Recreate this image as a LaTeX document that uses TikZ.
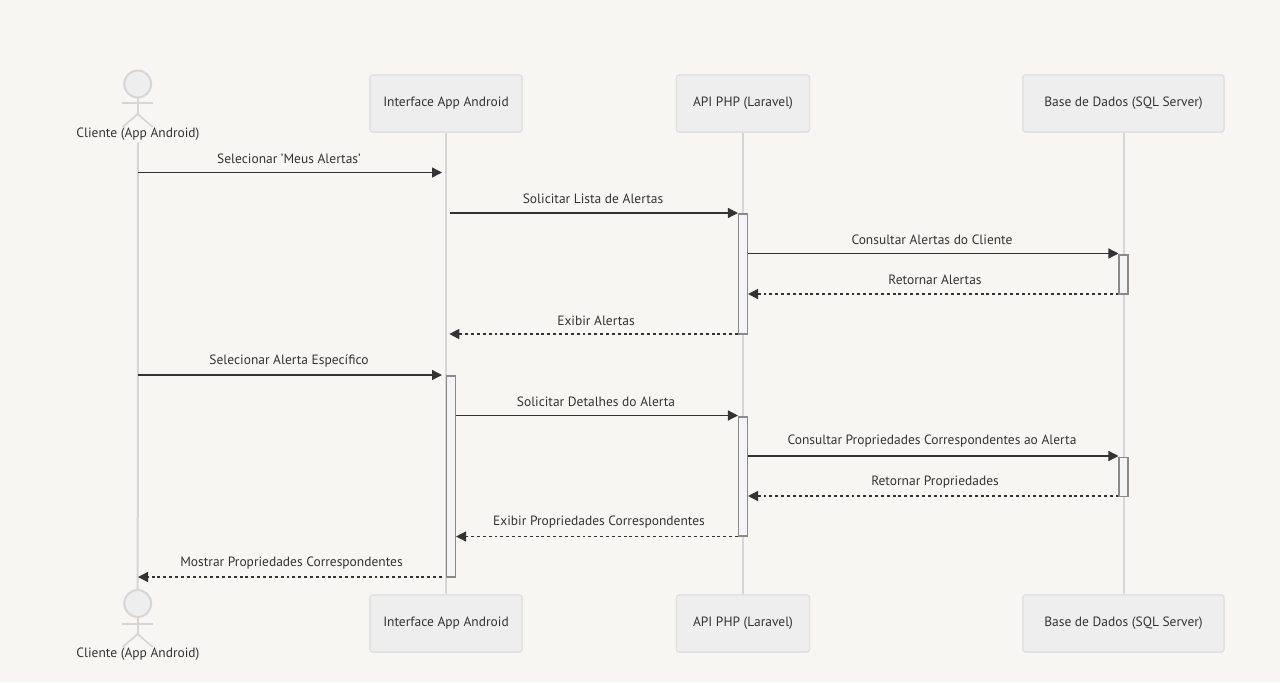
\documentclass[tikz,border=0pt]{standalone}
\usepackage{fontspec}
\setmainfont{PT Sans}
\usepackage{xcolor}
\usetikzlibrary{arrows.meta, positioning, calc}
\definecolor{kpaper}{HTML}{F7F6F3}
\definecolor{kbox}{HTML}{EEEEEE}
\definecolor{kedge}{HTML}{E0E0E0}
\definecolor{klife}{HTML}{D6D6D6}
\definecolor{kink}{HTML}{333333}
\definecolor{kact}{HTML}{F4F4F4}
\definecolor{kactedge}{HTML}{8A8A8A}
\tikzset{
  partbox/.style={draw=kedge, fill=kbox, line width=0.9pt, rounded corners=2pt, minimum height=42.75pt, font=\fontsize{10.1}{12}\selectfont, text=kink},
  acthead/.style={circle, draw=klife, fill=kbox, line width=1.5pt, minimum size=20.2pt, inner sep=0pt},
  actlabel/.style={font=\fontsize{10.1}{12}\selectfont, text=kink, inner sep=1pt},
  lifeline/.style={draw=klife, line width=1.5pt},
  actline/.style={draw=klife, line width=1.3pt},
  actbar/.style={draw=kactedge, fill=kact, line width=0.8pt, minimum width=6.75pt, inner sep=0pt},
  msgline/.style={draw=kink, line width=1pt, -{Triangle[length=7.5pt, width=7.5pt]}},
  msgback/.style={msgline, dash pattern=on 2.2pt off 2.2pt},
  msglabel/.style={font=\fontsize{10.1}{12}\selectfont, text=kink, inner sep=0pt},
}
\begin{document}
\begin{tikzpicture}[x=0.75pt, y=-0.75pt]
\useasboundingbox (0,0) rectangle (1280,682);
\fill[kpaper] (0,0) rectangle (1280,682);
% participants
\node[actlabel] (cliTop) at (138,134.5) {Cliente (App Android)};
\node[acthead] (cliHeadT) at (137.7,84) {};
\node[actlabel] (cliBot) at (138,654.5) {Cliente (App Android)};
\node[acthead] (cliHeadB) at (137.7,603.5) {};
\node[partbox, minimum width=114pt] (ifaceT) at (446,103.5) {Interface App Android};
\node[partbox, minimum width=114pt] (ifaceB) at (446,623.5) {Interface App Android};
\node[partbox, minimum width=99.75pt] (apiT) at (743,103.5) {API PHP (Laravel)};
\node[partbox, minimum width=99.75pt] (apiB) at (743,623.5) {API PHP (Laravel)};
\node[partbox, minimum width=150.75pt] (dbT) at (1123.5,103.5) {Base de Dados (SQL Server)};
\node[partbox, minimum width=150.75pt] (dbB) at (1123.5,623.5) {Base de Dados (SQL Server)};
% stick figures
\draw[actline] (cliHeadT.south) -- (137.7,114) (122,103.3) -- (153,103.3);
\draw[actline] (122.7,127) -- (137.7,114) -- (152.7,127);
\draw[actline] (cliHeadB.south) -- (137.7,634) (122,623.7) -- (153,623.7);
\draw[actline] (122.7,647) -- (137.7,634) -- (152.7,647);
% lifelines
\draw[lifeline] (cliTop.south) -- (cliHeadB.north);
\draw[lifeline] (ifaceT) -- (ifaceB);
\draw[lifeline] (apiT) -- (apiB);
\draw[lifeline] (dbT) -- (dbB);
\node[partbox, minimum width=114pt] at (ifaceT) {Interface App Android};
\node[partbox, minimum width=114pt] at (ifaceB) {Interface App Android};
\node[partbox, minimum width=99.75pt] at (apiT) {API PHP (Laravel)};
\node[partbox, minimum width=99.75pt] at (apiB) {API PHP (Laravel)};
\node[partbox, minimum width=150.75pt] at (dbT) {Base de Dados (SQL Server)};
\node[partbox, minimum width=150.75pt] at (dbB) {Base de Dados (SQL Server)};
% activations
\node[actbar, minimum height=90pt] (apiA) at (743,274) {};
\node[actbar, minimum height=29.25pt] (dbA) at (1123.5,274.5) {};
\node[actbar, minimum height=150.75pt] (ifaceA) at (451,476.5) {};
\node[actbar, minimum height=89.25pt] (apiC) at (743,476.5) {};
\node[actbar, minimum height=29.25pt] (dbC) at (1123.5,477) {};
% message rows
\coordinate (rowA) at (0,172.5);
\coordinate (rowB) at (0,213);
\coordinate (rowC) at (0,253.5);
\coordinate (rowD) at (0,294);
\coordinate (rowE) at (0,334);
\coordinate (rowF) at (0,375);
\coordinate (rowG) at (0,415.5);
\coordinate (rowH) at (0,456);
\coordinate (rowI) at (0,496);
\coordinate (rowJ) at (0,536.5);
\coordinate (rowK) at (0,577);
\draw[msgline, shorten >=3pt] (cliTop |- rowA) -- (ifaceT |- rowA);
\draw[msgline, shorten <=3pt] (ifaceT |- rowB) -- (apiA.west |- rowB);
\draw[msgline] (apiA.east |- rowC) -- (dbA.west |- rowC);
\draw[msgback] (dbA.west |- rowD) -- (apiA.east |- rowD);
\draw[msgback, shorten >=-0.5pt, shorten <=0pt] (apiA.west |- rowE) -- ([xshift=3pt]ifaceT |- rowE);
\draw[msgline, shorten >=3pt] (cliTop |- rowF) -- (ifaceT |- rowF);
\draw[msgline] (ifaceA.east |- rowG) -- (apiC.west |- rowG);
\draw[msgline] (apiC.east |- rowH) -- (dbC.west |- rowH);
\draw[msgback] (dbC.west |- rowI) -- (apiC.east |- rowI);
\draw[msgback] (apiC.west |- rowJ) -- (ifaceA.east |- rowJ);
\draw[msgback, shorten <=3pt] (ifaceT |- rowK) -- (cliTop |- rowK);
% message labels
\node[msglabel] (lblA) at (289,158.5) {Selecionar 'Meus Alertas'};
\node[msglabel] (lblB) at (593,198.5) {Solicitar Lista de Alertas};
\node[msglabel] (lblC) at (932,239.5) {Consultar Alertas do Cliente};
\node[msglabel] (lblD) at (935,279.5) {Retornar Alertas};
\node[msglabel] (lblE) at (596,320.5) {Exibir Alertas};
\node[msglabel] (lblF) at (289,360.5) {Selecionar Alerta Específico};
\node[msglabel] (lblG) at (596,401.5) {Solicitar Detalhes do Alerta};
\node[msglabel] (lblH) at (932,441.5) {Consultar Propriedades Correspondentes ao Alerta};
\node[msglabel] (lblI) at (935,482.5) {Retornar Propriedades};
\node[msglabel] (lblJ) at (599,522.5) {Exibir Propriedades Correspondentes};
\node[msglabel] (lblK) at (291.5,563.5) {Mostrar Propriedades Correspondentes};
\end{tikzpicture}
\end{document}
